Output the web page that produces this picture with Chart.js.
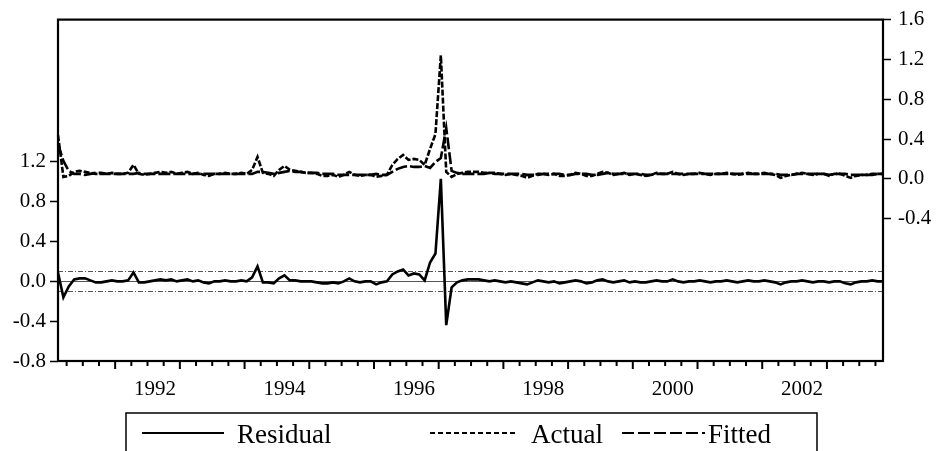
<!DOCTYPE html>
<html><head><meta charset="utf-8">
<script src="https://cdn.jsdelivr.net/npm/chart.js@4.4.1/dist/chart.umd.min.js"></script>
<style>html,body{margin:0;padding:0;background:#fff;}#wrap{width:944px;height:451px;position:relative;}</style>
</head><body><div id="wrap"><canvas id="c" width="944" height="451"></canvas></div>
<script>
// Monthly observations 1990M07 .. 2003M04
const startYear = 1990, startMonth = 7;

const residual = [
  0.09,-0.16,-0.05, 0.02, 0.03, 0.03,
  0.01,-0.01,-0.01, 0.00, 0.01, 0.00, 0.00, 0.01, 0.09,-0.01,-0.01, 0.00,
  0.01, 0.02, 0.01, 0.02, 0.00, 0.01, 0.02, 0.00, 0.01,-0.01,-0.02, 0.00,
  0.00, 0.01, 0.00, 0.00, 0.01, 0.00, 0.04, 0.15,-0.01,-0.01,-0.02, 0.03,
  0.06, 0.01, 0.01, 0.00, 0.00, 0.00,-0.01,-0.02,-0.02,-0.01,-0.02, 0.00,
  0.03, 0.00,-0.01, 0.00, 0.00,-0.03,-0.01, 0.00, 0.07, 0.10, 0.12, 0.06,
  0.08, 0.07, 0.01, 0.19, 0.28, 1.03,-0.44,-0.06,-0.01, 0.01, 0.02, 0.02,
  0.02, 0.01, 0.00, 0.01, 0.00,-0.01, 0.00,-0.01,-0.02,-0.03,-0.01, 0.01,
  0.00,-0.01, 0.00,-0.02,-0.01, 0.00, 0.01, 0.00,-0.02,-0.01, 0.01, 0.02,
  0.00,-0.01, 0.00, 0.01,-0.01, 0.00,-0.01,-0.01, 0.00, 0.01, 0.00, 0.00,
  0.02, 0.00,-0.01, 0.00, 0.00, 0.01, 0.00,-0.01, 0.00, 0.00, 0.01, 0.00,
 -0.01, 0.00, 0.01, 0.00, 0.00, 0.01, 0.00,-0.01,-0.03,-0.01, 0.00, 0.00,
  0.01, 0.00,-0.01, 0.00, 0.00,-0.01, 0.00, 0.00,-0.02,-0.03,-0.01, 0.00,
  0.00, 0.01, 0.00, 0.00
];

const actual = [
  0.44, 0.02, 0.03, 0.07, 0.08, 0.07,
  0.06, 0.05, 0.05, 0.05, 0.06, 0.05, 0.05, 0.06, 0.14, 0.05, 0.04, 0.05,
  0.06, 0.07, 0.06, 0.07, 0.05, 0.06, 0.07, 0.05, 0.06, 0.04, 0.03, 0.05,
  0.05, 0.06, 0.05, 0.05, 0.06, 0.05, 0.09, 0.22, 0.06, 0.05, 0.03, 0.09,
  0.13, 0.09, 0.08, 0.07, 0.06, 0.06, 0.05, 0.03, 0.03, 0.04, 0.02, 0.04,
  0.07, 0.04, 0.03, 0.04, 0.04, 0.02, 0.03, 0.04, 0.14, 0.20, 0.24, 0.19,
  0.20, 0.19, 0.14, 0.30, 0.45, 1.24, 0.07, 0.02, 0.05, 0.06, 0.07, 0.07,
  0.07, 0.06, 0.06, 0.06, 0.05, 0.04, 0.05, 0.04, 0.03, 0.01, 0.03, 0.05,
  0.05, 0.04, 0.05, 0.03, 0.03, 0.04, 0.06, 0.05, 0.03, 0.03, 0.05, 0.07,
  0.06, 0.04, 0.05, 0.06, 0.04, 0.05, 0.04, 0.03, 0.04, 0.06, 0.05, 0.05,
  0.07, 0.05, 0.04, 0.05, 0.05, 0.06, 0.05, 0.04, 0.05, 0.05, 0.06, 0.05,
  0.04, 0.05, 0.06, 0.05, 0.05, 0.06, 0.05, 0.04, 0.01, 0.03, 0.04, 0.05,
  0.06, 0.05, 0.04, 0.05, 0.05, 0.03, 0.05, 0.05, 0.03, 0.01, 0.03, 0.04,
  0.04, 0.05, 0.05, 0.05
];

const fitted = [
  0.35, 0.18, 0.08, 0.05, 0.05, 0.04,
  0.05, 0.06, 0.06, 0.05, 0.05, 0.05, 0.05, 0.05, 0.05, 0.06, 0.05, 0.05,
  0.05, 0.05, 0.05, 0.05, 0.05, 0.05, 0.05, 0.05, 0.05, 0.05, 0.05, 0.05,
  0.05, 0.05, 0.05, 0.05, 0.05, 0.05, 0.05, 0.07, 0.07, 0.06, 0.05, 0.06,
  0.07, 0.08, 0.07, 0.07, 0.06, 0.06, 0.06, 0.05, 0.05, 0.05, 0.04, 0.04,
  0.04, 0.04, 0.04, 0.04, 0.04, 0.05, 0.04, 0.04, 0.07, 0.10, 0.12, 0.13,
  0.12, 0.12, 0.13, 0.11, 0.17, 0.21, 0.51, 0.08, 0.06, 0.05, 0.05, 0.05,
  0.05, 0.05, 0.06, 0.05, 0.05, 0.05, 0.05, 0.05, 0.05, 0.04, 0.04, 0.04,
  0.05, 0.05, 0.05, 0.05, 0.04, 0.04, 0.05, 0.05, 0.05, 0.04, 0.04, 0.05,
  0.06, 0.05, 0.05, 0.05, 0.05, 0.05, 0.05, 0.04, 0.04, 0.05, 0.05, 0.05,
  0.05, 0.05, 0.05, 0.05, 0.05, 0.05, 0.05, 0.05, 0.05, 0.05, 0.05, 0.05,
  0.05, 0.05, 0.05, 0.05, 0.05, 0.05, 0.05, 0.05, 0.04, 0.04, 0.04, 0.05,
  0.05, 0.05, 0.05, 0.05, 0.05, 0.04, 0.05, 0.05, 0.05, 0.04, 0.04, 0.04,
  0.04, 0.04, 0.05, 0.05
];

const leftTicks  = [-0.8, -0.4, 0.0, 0.4, 0.8, 1.2];
const rightTicks = [-0.4, 0.0, 0.4, 0.8, 1.2, 1.6];
const yearLabels = [1992, 1994, 1996, 1998, 2000, 2002];
const seBand = 0.1;
const legendNames = ['Residual', 'Actual', 'Fitted'];

const months = residual.map((_, i) => {
  const m = startMonth - 1 + i;
  return (startYear + Math.floor(m / 12)) + 'M' + String(m % 12 + 1).padStart(2, '0');
});

const FONT = 'Liberation Serif';

const framePlugin = {
  id: 'frame',
  beforeDatasetsDraw(chart) {
    const ctx = chart.ctx, a = chart.chartArea, yL = chart.scales.yL;
    ctx.save();
    ctx.strokeStyle = '#555'; ctx.lineWidth = 1;
    const y0 = Math.round(yL.getPixelForValue(0)) + 0.5;
    ctx.beginPath(); ctx.moveTo(a.left, y0); ctx.lineTo(a.right, y0); ctx.stroke();
    ctx.setLineDash([5, 2, 1, 2]); ctx.strokeStyle = '#555';
    [seBand, -seBand].forEach(v => {
      const y = Math.round(yL.getPixelForValue(v)) + 0.5;
      ctx.beginPath(); ctx.moveTo(a.left, y); ctx.lineTo(a.right, y); ctx.stroke();
    });
    ctx.restore();
  },
  afterDraw(chart) {
    const ctx = chart.ctx, a = chart.chartArea, xs = chart.scales.x;
    ctx.save();
    ctx.strokeStyle = '#000'; ctx.lineWidth = 2.2;
    ctx.strokeRect(a.left, a.top, a.right - a.left, a.bottom - a.top);
    ctx.lineWidth = 2;
    for (let k = 0; ; k++) {
      const v = 1.6 + 3 * k;
      if (v > months.length - 1) break;
      const x = xs.getPixelForValue(v);
      const len = ((k - 3) % 4 === 0) ? 8 : 5;
      ctx.beginPath(); ctx.moveTo(x, a.bottom); ctx.lineTo(x, a.bottom + len); ctx.stroke();
    }
    const bx = 126, by = 413, bw = 691;
    ctx.lineWidth = 1.5;
    ctx.beginPath();
    ctx.moveTo(bx, 460); ctx.lineTo(bx, by); ctx.lineTo(bx + bw, by); ctx.lineTo(bx + bw, 460);
    ctx.stroke();
    const items = [
      { x0: 142, x1: 224, tx: 237, dash: [] },
      { x0: 430, x1: 518, tx: 531, dash: [5, 3] },
      { x0: 622, x1: 705, tx: 708, dash: [12, 4] }
    ];
    ctx.font = '27px "' + FONT + '"';
    ctx.fillStyle = '#000'; ctx.textBaseline = 'alphabetic'; ctx.textAlign = 'left';
    items.forEach((it, i) => {
      ctx.setLineDash(it.dash); ctx.lineWidth = 2;
      ctx.beginPath(); ctx.moveTo(it.x0, 433); ctx.lineTo(it.x1, 433); ctx.stroke();
      ctx.setLineDash([]);
      ctx.fillText(legendNames[i], it.tx, 443);
    });
    ctx.restore();
  }
};

new Chart(document.getElementById('c'), {
  type: 'line',
  data: {
    labels: months,
    datasets: [
      { label: legendNames[0], data: residual, yAxisID: 'yL', borderColor: '#000', borderWidth: 2.6, pointRadius: 0, tension: 0 },
      { label: legendNames[1], data: actual, yAxisID: 'yR', borderColor: '#000', borderWidth: 2.6, borderDash: [6, 2], pointRadius: 0, tension: 0 },
      { label: legendNames[2], data: fitted, yAxisID: 'yR', borderColor: '#000', borderWidth: 2.6, borderDash: [12, 3], pointRadius: 0, tension: 0 }
    ]
  },
  options: {
    responsive: false, animation: false, devicePixelRatio: 1,
    layout: { padding: { top: 18, left: 0, right: 0, bottom: 0 } },
    plugins: { legend: { display: false }, tooltip: { enabled: false } },
    scales: {
      x: {
        type: 'category',
        grid: { display: false, drawTicks: false },
        border: { display: false },
        ticks: {
          autoSkip: false, maxRotation: 0, minRotation: 0, padding: 16, color: '#000',
          font: { family: FONT, size: 21 },
          callback: (val, idx) => {
            const lab = months[idx];
            const y = +lab.slice(0, 4), m = lab.slice(5);
            return (m === '01' && yearLabels.includes(y)) ? String(y) : '';
          }
        },
        afterFit(s) { s.height = 90; }
      },
      yL: {
        position: 'left', min: -0.8, max: 2.63,
        afterBuildTicks(s) { s.ticks = leftTicks.map(v => ({ value: v })); },
        grid: { drawOnChartArea: false, drawTicks: true, tickLength: 8, tickColor: '#000', tickWidth: 1.5 },
        border: { display: false },
        ticks: { padding: 4, color: '#000', font: { family: FONT, size: 21 }, callback: v => v.toFixed(1) },
        afterFit(s) { s.width = 58; }
      },
      yR: {
        position: 'right', min: -1.83, max: 1.6,
        afterBuildTicks(s) { s.ticks = rightTicks.map(v => ({ value: v })); },
        grid: { drawOnChartArea: false, drawTicks: true, tickLength: 8, tickColor: '#000', tickWidth: 1.5 },
        border: { display: false },
        ticks: { padding: 7, color: '#000', font: { family: FONT, size: 21 }, callback: v => v.toFixed(1) },
        afterFit(s) { s.width = 61; }
      }
    }
  },
  plugins: [framePlugin]
});
</script>
</body></html>
